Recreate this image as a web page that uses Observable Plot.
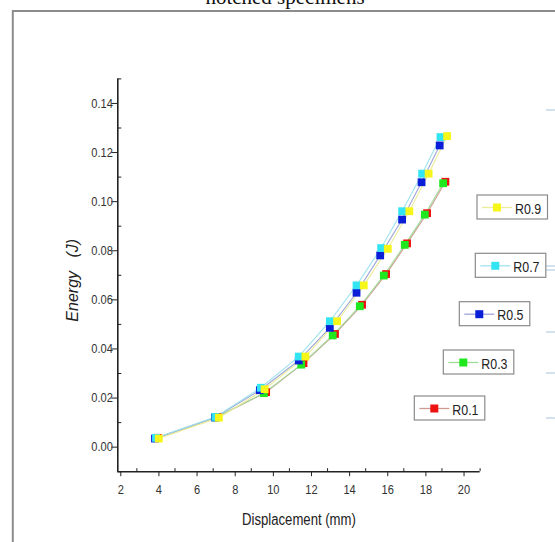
<!DOCTYPE html>
<html>
<head>
<meta charset="utf-8">
<script src="https://cdn.jsdelivr.net/npm/d3@7"></script>
<script src="https://cdn.jsdelivr.net/npm/@observablehq/plot@0.6"></script>
<style>
  html, body { margin: 0; padding: 0; background: #fff; }
  #chart svg { display: block; }
</style>
</head>
<body>
<div id="chart"></div>
<script>
// Energy absorbed vs. displacement for notched specimens of different notch radius
const seriesNames = ["R0.1", "R0.3", "R0.5", "R0.7", "R0.9"];
const markerColors = ["#ee1111", "#1fe81f", "#0a1ed8", "#33e4f2", "#f6f61a"];
const lineColors = ["#cf9a92", "#9fdc98", "#9ea6d8", "#9fe3ee", "#ecec9a"];

// displacement (mm)
const dispR01 = [4.10, 7.22, 9.78, 11.74, 13.39, 14.81, 16.07, 17.17, 18.22, 19.18];
const dispR03 = [4.00, 7.12, 9.66, 11.62, 13.27, 14.69, 15.95, 17.05, 18.10, 19.06];
const dispR05 = [3.95, 7.10, 9.45, 11.49, 13.12, 14.52, 15.76, 16.91, 17.93, 18.88];
const dispR07 = [4.00, 7.12, 9.50, 11.49, 13.12, 14.52, 15.81, 16.91, 17.96, 18.92];
const dispR09 = [4.15, 7.30, 9.70, 11.84, 13.50, 14.90, 16.16, 17.29, 18.30, 19.27];

// energy (J)
const energyR01 = [0.0038, 0.0123, 0.0224, 0.0342, 0.0461, 0.0580, 0.0705, 0.0830, 0.0953, 0.1081];
const energyR03 = [0.0037, 0.0121, 0.0220, 0.0336, 0.0455, 0.0574, 0.0699, 0.0824, 0.0947, 0.1075];
const energyR05 = [0.0035, 0.0121, 0.0232, 0.0353, 0.0486, 0.0629, 0.0781, 0.0927, 0.1079, 0.1229];
const energyR07 = [0.0038, 0.0123, 0.0242, 0.0369, 0.0513, 0.0659, 0.0811, 0.0961, 0.1114, 0.1263];
const energyR09 = [0.0035, 0.0120, 0.0236, 0.0369, 0.0513, 0.0659, 0.0808, 0.0961, 0.1114, 0.1267];

const xMajorTicks = [2, 4, 6, 8, 10, 12, 14, 16, 18, 20];
const xMinorTicks = [3, 5, 7, 9, 11, 13, 15, 17, 19, 21];
const yMajorTicks = [0.00, 0.02, 0.04, 0.06, 0.08, 0.10, 0.12, 0.14];
const yMinorTicks = [-0.01, 0.01, 0.03, 0.05, 0.07, 0.09, 0.11, 0.13, 0.15];

const xLabel = "Displacement (mm)";
const yLabel = "Energy\u00a0\u00a0\u00a0(J)";
const titleText = "notched specimens";

const dispAll = [dispR01, dispR03, dispR05, dispR07, dispR09];
const energyAll = [energyR01, energyR03, energyR05, energyR07, energyR09];

const rows = [];
seriesNames.forEach((name, s) => {
  dispAll[s].forEach((d, i) => rows.push({series: name, s, disp: d, energy: energyAll[s][i]}));
});

const sans = "'Liberation Sans', Arial, sans-serif";

const marks = [
  Plot.axisX({ticks: xMajorTicks, tickSize: 5, tickPadding: 8, dx: 3, tickFormat: d => d, label: null,
              stroke: "#222", fill: "#333", fontSize: 13.5}),
  Plot.axisX({ticks: xMinorTicks, tickSize: 3, dy: -3, tickFormat: () => "", label: null, stroke: "#222"}),
  Plot.axisY({ticks: yMajorTicks, tickSize: 6, tickPadding: -1, tickFormat: d3.format(".2f"), label: null,
              stroke: "#222", fill: "#333", fontSize: 13.5}),
  Plot.axisY({ticks: yMinorTicks, tickSize: 4, dx: 4, tickFormat: () => "", label: null, stroke: "#222"}),
  Plot.ruleY([-0.01], {stroke: "#222", strokeWidth: 1.6}),
  Plot.ruleX([2], {stroke: "#222", strokeWidth: 1.6}),
];

seriesNames.forEach((name, s) => {
  const data = rows.filter(r => r.s === s);
  marks.push(Plot.line(data, {x: "disp", y: "energy", stroke: lineColors[s], strokeWidth: 1.1}));
});
seriesNames.forEach((name, s) => {
  const data = rows.filter(r => r.s === s);
  marks.push(Plot.dot(data, {x: "disp", y: "energy", symbol: "square", r: 4.4, fill: markerColors[s], stroke: "none"}));
});

marks.push(
  Plot.text([xLabel], {text: d => d, frameAnchor: "bottom", dy: 53, fontSize: 16, fill: "#222"}),
  Plot.text([yLabel], {text: d => d, frameAnchor: "left", textAnchor: "middle", rotate: -90, dx: -45, dy: 5,
                       fontSize: 16, fontStyle: "italic", fill: "#222"})
);

const chart = Plot.plot({
  width: 555,
  height: 542,
  marginTop: 78.4,
  marginBottom: 70.8,
  marginLeft: 117.3,
  marginRight: 75.4,
  style: {fontFamily: sans, fontSize: "13px", color: "#222", background: "#fff", overflow: "visible"},
  x: {domain: [2, 21]},
  y: {domain: [-0.01, 0.15]},
  marks
});

document.getElementById("chart").append(chart);

const svg = d3.select(chart);

// condensed lettering for tick labels, axis title and legend
function condense(selection, k) {
  selection.each(function () {
    const w = this.getComputedTextLength();
    if (w > 0) {
      this.setAttribute("textLength", (w * k).toFixed(2));
      this.setAttribute("lengthAdjust", "spacingAndGlyphs");
    }
  });
}
condense(svg.selectAll("text").filter(function () { return this.textContent !== yLabel; }), 0.82);

// panel frame and the clipped heading above it
svg.append("text")
  .attr("x", 285).attr("y", 3.5)
  .attr("text-anchor", "middle")
  .style("font-family", "'Liberation Serif', 'Times New Roman', serif")
  .style("font-size", "21px")
  .attr("fill", "#111")
  .text(titleText);

svg.append("path")
  .attr("d", "M555,11 H12.8 V542")
  .attr("fill", "none")
  .attr("stroke", "#8c8c8c")
  .attr("stroke-width", 2);

// faint ticks of a neighbouring panel at the right edge
const edgeTicks = [110, 266, 270, 332, 373, 418];
svg.append("g").selectAll("line").data(edgeTicks).join("line")
  .attr("x1", 546).attr("x2", 555)
  .attr("y1", d => d).attr("y2", d => d)
  .attr("stroke", "#a9c4dc").attr("stroke-width", 1);

// legend entries, top to bottom: R0.9 ... R0.1
const legendBoxes = [
  {s: 4, left: 477, top: 195},
  {s: 3, left: 475.3, top: 253.3},
  {s: 2, left: 459.3, top: 301.7},
  {s: 1, left: 443.3, top: 350},
  {s: 0, left: 414.3, top: 396}
];
const lg = svg.append("g");
legendBoxes.forEach(b => {
  const g = lg.append("g").attr("transform", `translate(${b.left},${b.top})`);
  g.append("rect").attr("width", 70.5).attr("height", 24)
    .attr("fill", "#fff").attr("stroke", "#8a8a8a").attr("stroke-width", 1.2);
  g.append("line").attr("x1", 5).attr("x2", 35).attr("y1", 12.5).attr("y2", 12.5)
    .attr("stroke", lineColors[b.s]).attr("stroke-width", 1.3);
  g.append("rect").attr("x", 16).attr("y", 8.5).attr("width", 8).attr("height", 8)
    .attr("fill", markerColors[b.s]);
  const t = g.append("text").attr("x", 38).attr("y", 18.5)
    .attr("text-anchor", "start")
    .style("font-family", sans).style("font-size", "15.5px")
    .attr("fill", "#222")
    .text(seriesNames[b.s]);
  condense(t, 0.8);
});
</script>
</body>
</html>
